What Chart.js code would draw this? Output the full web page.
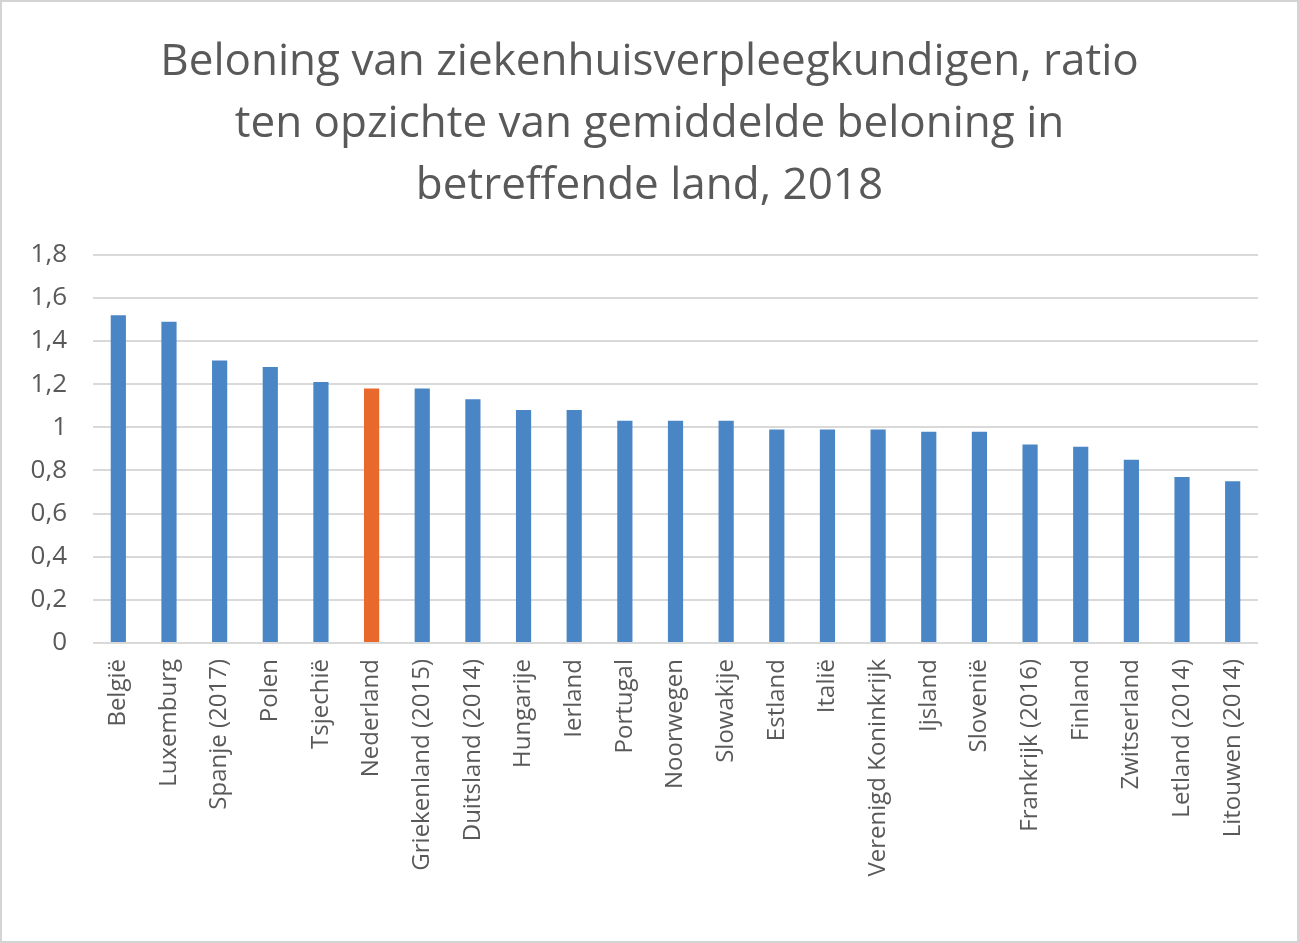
<!DOCTYPE html>
<html>
<head>
<meta charset="utf-8">
<script src="https://cdn.jsdelivr.net/npm/chart.js@4.4.1/dist/chart.umd.min.js"></script>
<style>
    html, body { margin: 0; padding: 0; background: #fff; }
    .wrap {
        width: 1299px; height: 943px; box-sizing: border-box;
        border: 2px solid #d4d4d4; background: #fff;
    }
    canvas { display: block; }
</style>
</head>
<body>
<div class="wrap">
    <canvas id="chart" width="1295" height="939"></canvas>
</div>
<script>
// Data
const countries = [
    "België", "Luxemburg", "Spanje (2017)", "Polen", "Tsjechië", "Nederland",
    "Griekenland (2015)", "Duitsland (2014)", "Hungarije", "Ierland", "Portugal",
    "Noorwegen", "Slowakije", "Estland", "Italië", "Verenigd Koninkrijk", "Ijsland",
    "Slovenië", "Frankrijk (2016)", "Finland", "Zwitserland", "Letland (2014)", "Litouwen (2014)"
];
const ratios = [
    1.52, 1.49, 1.31, 1.28, 1.21, 1.18,
    1.18, 1.13, 1.08, 1.08, 1.03,
    1.03, 1.03, 0.99, 0.99, 0.99, 0.98,
    0.98, 0.92, 0.91, 0.85, 0.77, 0.75
];
const highlight = "Nederland";
const titleLines = [
    "Beloning van ziekenhuisverpleegkundigen, ratio",
    "ten opzichte van gemiddelde beloning in",
    "betreffende land, 2018"
];
const yMax = 1.8;
const yStep = 0.2;

const BLUE = "#4a86c6";
const ORANGE = "#e9692c";
const TEXT = "#595959";

const barColors = countries.map(c => c === highlight ? ORANGE : BLUE);

function fmt(v) {
    // Dutch decimal comma
    return String(Math.round(v * 10) / 10).replace(".", ",");
}

new Chart(document.getElementById("chart"), {
    type: "bar",
    data: {
        labels: countries,
        datasets: [{
            data: ratios,
            backgroundColor: barColors,
            borderWidth: 0,
            barPercentage: 0.6,
            categoryPercentage: 0.5
        }]
    },
    options: {
        responsive: false,
        animation: false,
        layout: { padding: 0 },
        plugins: {
            legend: { display: false },
            tooltip: { enabled: false },
            title: {
                display: true,
                text: titleLines,
                color: TEXT,
                font: { family: "'Open Sans'", size: 44, weight: "normal", lineHeight: 1.4 },
                padding: { top: 30, bottom: 38 }
            }
        },
        scales: {
            x: {
                grid: { display: false },
                border: { display: false },
                ticks: {
                    color: TEXT,
                    font: { family: "'Open Sans'", size: 24 },
                    minRotation: 90,
                    maxRotation: 90,
                    autoSkip: false,
                    padding: 8
                },
                afterFit: scale => { scale.height = 298; }
            },
            y: {
                min: 0,
                max: yMax,
                grid: { color: "#d9d9d9", lineWidth: 2, drawTicks: false },
                border: { display: false },
                ticks: {
                    stepSize: yStep,
                    color: TEXT,
                    font: { family: "'Open Sans'", size: 26 },
                    padding: 26,
                    callback: v => fmt(v)
                },
                afterFit: scale => { scale.width = 91; }
            },
            // empty right-hand axis, only keeps the margin right of the plot
            yRight: {
                position: "right",
                grid: { display: false, drawTicks: false },
                border: { display: false },
                ticks: { display: false },
                afterFit: scale => { scale.width = 39; }
            }
        }
    }
});
</script>
</body>
</html>
